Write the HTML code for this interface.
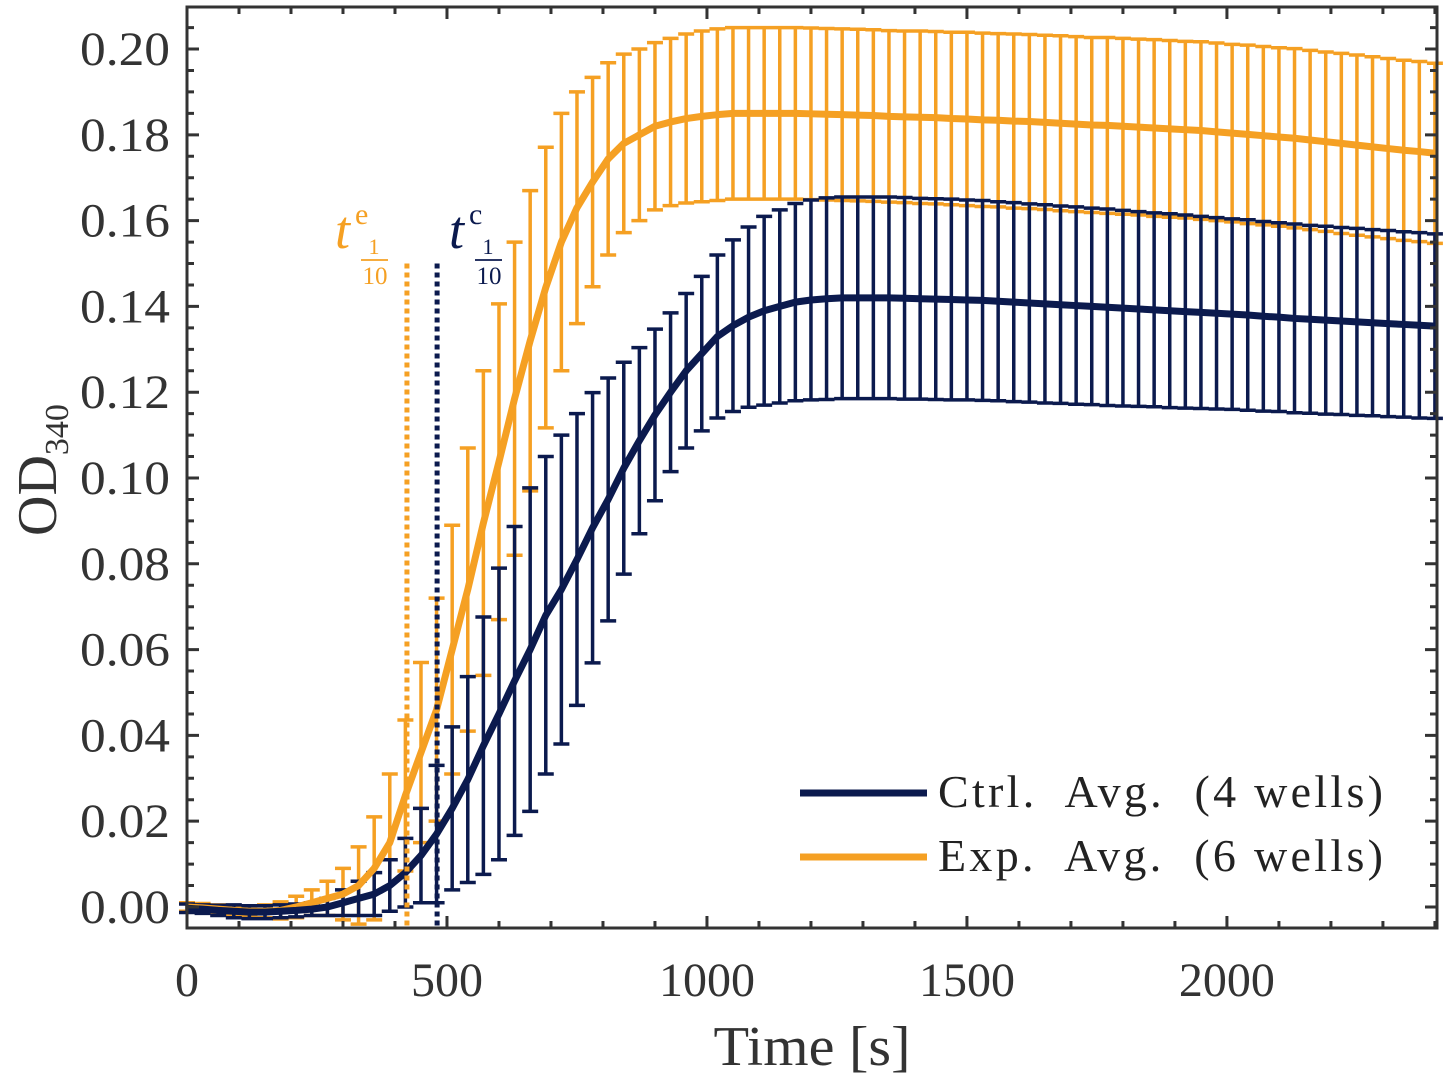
<!DOCTYPE html>
<html><head><meta charset="utf-8"><style>
html,body{margin:0;padding:0;background:#fff;}
svg{display:block;font-family:"Liberation Serif",serif;}
</style></head><body>
<svg id="chart" width="1453" height="1083" viewBox="0 0 1453 1083" xmlns="http://www.w3.org/2000/svg"></svg>
<script>
const times = [];
for (let i = 0; i <= 80; i++) times.push(i * 30);
const expMean = [0,-0.0002,-0.0005,-0.0008,-0.001,-0.001,-0.0008,0,0.001,0.002,0.003,0.005,0.009,0.015,0.026,0.036,0.046,0.060,0.074,0.0895,0.1038,0.1185,0.132,0.1444,0.155,0.163,0.169,0.1744,0.178,0.180,0.182,0.183,0.1838,0.1843,0.1847,0.185,0.185,0.185,0.185,0.185,0.1849,
0.1848,0.1847,0.1846,0.1845,0.1843,0.1842,0.1841,0.1840,0.1838,0.1837,0.1835,0.1834,0.1832,0.1831,0.1829,0.1827,0.1825,0.1823,0.1822,0.182,0.1818,0.1816,0.1814,0.1812,0.181,0.1807,0.1804,0.1801,0.1798,0.1795,0.1792,0.1788,0.1784,0.178,0.1776,0.1772,0.1768,0.1764,0.1761,0.1757];
const expSd = [0.001,0.001,0.001,0.001,0.0012,0.0015,0.002,0.0025,0.003,0.004,0.006,0.009,0.012,0.016,0.0176,0.021,0.026,0.029,0.033,0.0355,0.0368,0.0365,0.035,0.0327,0.030,0.027,0.0244,0.0224,0.0208,0.020,0.0195,0.0195,
0.0197,0.0199,0.02,0.02,0.02,0.02,0.02,0.02,0.02,0.02,0.02,0.02,0.02,0.02,0.02,0.0201,0.0201,0.0201,0.0202,0.0202,0.0202,0.0203,0.0203,0.0203,0.0204,0.0204,0.0204,0.0205,0.0205,0.0205,0.0206,0.0206,0.0206,0.0207,0.0207,0.0207,0.0208,0.0208,0.0208,0.0209,0.0209,0.0209,0.021,0.021,0.021,0.021,0.021,0.021,0.021];
const ctrlMean = [-0.0003,-0.0005,-0.0008,-0.001,-0.0012,-0.0012,-0.001,-0.0008,-0.0005,0,0.001,0.002,0.003,0.005,0.008,0.012,0.017,0.023,0.0297,0.0376,0.045,0.0527,0.060,0.068,0.074,0.081,0.0884,0.095,0.1023,0.1087,0.1147,0.120,0.125,0.129,0.133,0.1355,0.1375,0.139,0.140,0.141,0.1415,0.1418,0.142,0.142,0.142,0.142,0.1419,0.1418,0.1417,0.1416,0.1415,
0.1414,0.1412,0.141,0.1408,0.1406,0.1404,0.1402,0.14,0.1398,0.1396,0.1394,0.1392,0.139,0.1388,0.1386,0.1384,0.1382,0.138,0.1377,0.1375,0.1372,0.137,0.1368,0.1366,0.1364,0.1362,0.136,0.1358,0.1356,0.1354];
const ctrlSd = [0.001,0.001,0.0012,0.0015,0.0015,0.0015,0.0015,0.0015,0.0015,0.002,0.003,0.004,0.005,0.006,0.008,0.011,0.016,0.019,0.024,0.030,0.034,0.036,0.0377,0.037,0.036,0.034,0.0315,0.0283,0.0247,0.0217,0.020,0.0185,0.018,0.018,0.019,0.020,0.021,0.022,0.0225,0.023,0.0233,
0.0235,0.0235,0.0235,0.0235,0.0235,0.0235,0.0234,0.0234,0.0234,0.0233,0.0233,0.0232,0.0232,0.0231,0.0231,0.023,0.023,0.0229,0.0229,0.0228,0.0227,0.0226,0.0226,0.0225,0.0224,0.0223,0.0222,0.0222,0.0221,0.022,0.022,0.0219,0.0219,0.0218,0.0218,0.0217,0.0217,0.0216,0.0216,0.0215];
const xTickLabels = [0, 500, 1000, 1500, 2000];
const yTickLabels = ["0.00","0.02","0.04","0.06","0.08","0.10","0.12","0.14","0.16","0.18","0.20"];
const yTickValues = [0,0.02,0.04,0.06,0.08,0.10,0.12,0.14,0.16,0.18,0.20];
const tTenthExp = 423;
const tTenthCtrl = 481;

const L=187,R=1437,T=7,B=928;
const X0=0,X1=2404,Y0=-0.0049,Y1=0.2098;
const xs = t => L + (t-X0)/(X1-X0)*(R-L);
const ys = v => B - (v-Y0)/(Y1-Y0)*(B-T);
const NS="http://www.w3.org/2000/svg";
const svg=document.getElementById('chart');
function mk(tag, attrs, parent){const e=document.createElementNS(NS,tag);for(const k in attrs)e.setAttribute(k,attrs[k]);(parent||svg).appendChild(e);return e;}
const ORANGE="#F5A023", NAVY="#0B1A4E", AX="#333333";

function errBars(mean, sd, color, name){
  const g=mk('g',{});
  
  
  let d="";
  times.forEach((t,i)=>{
    const x=xs(t), y1=ys(mean[i]+sd[i]), y2=ys(mean[i]-sd[i]);
    d+=`M${x},${y1}V${y2}M${x-8},${y1}H${x+8}M${x-8},${y2}H${x+8}`;
  });
  mk('path',{d:d,stroke:color,'stroke-width':3.5,fill:'none'},g);
}
function meanLine(mean,color,name){
  const p=mk('path',{d:times.map((t,i)=>(i?'L':'M')+xs(t)+','+ys(mean[i])).join(''),stroke:color,'stroke-width':7,fill:'none','stroke-linejoin':'round'});
  
  
}
errBars(expMean,expSd,ORANGE,'exp-error-bars');
errBars(ctrlMean,ctrlSd,NAVY,'ctrl-error-bars');
meanLine(expMean,ORANGE,'exp-mean-line');
meanLine(ctrlMean,NAVY,'ctrl-mean-line');

function marker(t,color,name){
  const l=mk('line',{x1:xs(t),x2:xs(t),y1:ys(0.15),y2:B,stroke:color,'stroke-width':5,'stroke-dasharray':'5 4'});
  
  
}
marker(tTenthExp,ORANGE,'t-tenth-exp-line');
marker(tTenthCtrl,NAVY,'t-tenth-ctrl-line');
function tLabel(x,color,sup,name){
  const g=mk('g',{fill:color});
  
  
  const a=mk('text',{x:x,y:248,'font-size':54,'font-style':'italic'},g);a.textContent='t';
  const b=mk('text',{x:x+20,y:224,'font-size':30},g);b.textContent=sup;
  const c=mk('text',{x:x+39,y:254,'font-size':22,'text-anchor':'middle'},g);c.textContent='1';
  mk('line',{x1:x+26,x2:x+53,y1:260,y2:260,stroke:color,'stroke-width':1.8},g);
  const d=mk('text',{x:x+40,y:284,'font-size':25,'text-anchor':'middle'},g);d.textContent='10';
}
tLabel(335,ORANGE,'e','t-tenth-exp-label');
tLabel(449,NAVY,'c','t-tenth-ctrl-label');

const fr=mk('rect',{x:L,y:T,width:R-L,height:B-T,fill:'none',stroke:AX,'stroke-width':3});


let td="";
for(let t=0;t<=2400;t+=100){const x=xs(t),len=(t%500===0)?12:7;td+=`M${x},${B}v${-len}M${x},${T}v${len}`;}
for(let k=0;k<=42;k++){const v=k*0.005;const y=ys(v);if(y<T)continue;const len=(k%4===0)?12:7;td+=`M${L},${y}h${len}M${R},${y}h${-len}`;}
const tk=mk('path',{d:td,stroke:AX,'stroke-width':3,fill:'none'});


xTickLabels.forEach(v=>{
  const t=mk('text',{x:xs(v),y:996,'font-size':48,'text-anchor':'middle',fill:AX});
  
  
  t.textContent=v;
});
yTickValues.forEach((v,i)=>{
  const t=mk('text',{x:170,y:ys(v)+16,'font-size':48,'text-anchor':'end',fill:AX,textLength:90,lengthAdjust:'spacingAndGlyphs'});
  
  
  t.textContent=yTickLabels[i];
});
</script>
<svg style="position:absolute;left:0;top:0" width="1453" height="1083">
<text x="812" y="1065" font-size="56" text-anchor="middle" fill="#333" font-family="Liberation Serif, serif" textLength="197" lengthAdjust="spacingAndGlyphs">Time [s]</text>
<text transform="translate(56,470) rotate(-90)" font-size="56" text-anchor="middle" fill="#333" font-family="Liberation Serif, serif">OD<tspan font-size="34" dy="12">340</tspan></text>
<g font-family="Liberation Serif, serif" font-size="46" fill="#222">
<g><line x1="800" x2="927" y1="793" y2="793" stroke="#0B1A4E" stroke-width="7"/><text x="938" y="807" textLength="445" lengthAdjust="spacing" xml:space="preserve">Ctrl.  Avg.  (4 wells)</text></g>
<g><line x1="800" x2="927" y1="857" y2="857" stroke="#F5A023" stroke-width="7"/><text x="938" y="871" textLength="445" lengthAdjust="spacing" xml:space="preserve">Exp.  Avg.  (6 wells)</text></g>
</g>
</svg>
</body></html>
